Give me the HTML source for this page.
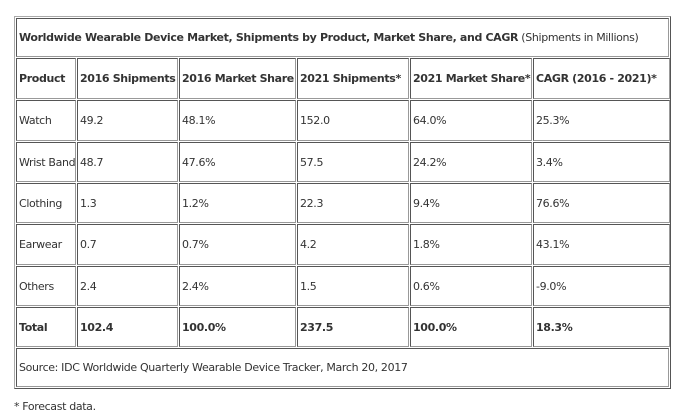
<!DOCTYPE html><html><head><style>
body{margin:0;width:700px;height:420px;background:#fff;position:relative;font-family:"DejaVu Sans","Liberation Sans",sans-serif;font-size:11px;color:#333;overflow:hidden;letter-spacing:-0.35px}
.t{position:absolute;left:14px;top:16px;width:655px;height:371px;border:1px solid #aaa;border-right-color:#555;border-bottom-color:#555}
.c{position:absolute;box-sizing:border-box;border:1px solid #999;border-top-color:#555;border-left-color:#555;padding-left:2px;display:flex;align-items:center;white-space:nowrap;overflow:hidden}
b{font-weight:bold}
</style></head><body>
<div class="t"></div>
<div id="g"></div>
<div style="position:absolute;left:14px;top:400px">* Forecast data.</div>
<script>
var xs=[[16,75],[77,177],[179,295],[297,408],[410,531],[533,669]];
var ys=[[58,98],[100,140],[142,181],[183,222],[224,264],[266,305],[307,346]];
var d=[["Product","2016 Shipments","2016 Market Share","2021 Shipments*","2021 Market Share*","CAGR (2016 - 2021)*"],
["Watch","49.2","48.1%","152.0","64.0%","25.3%"],
["Wrist Band","48.7","47.6%","57.5","24.2%","3.4%"],
["Clothing","1.3","1.2%","22.3","9.4%","76.6%"],
["Earwear","0.7","0.7%","4.2","1.8%","43.1%"],
["Others","2.4","2.4%","1.5","0.6%","-9.0%"],
["Total","102.4","100.0%","237.5","100.0%","18.3%"]];
var h='<div class="c" style="left:16px;top:18px;width:653px;height:39px"><span><b>Worldwide Wearable Device Market, Shipments by Product, Market Share, and CAGR</b> (Shipments in Millions)</span></div>';
for(var r=0;r<7;r++)for(var c=0;c<6;c++){var bold=(r==0||r==6);
h+='<div class="c" style="left:'+xs[c][0]+'px;top:'+ys[r][0]+'px;width:'+(xs[c][1]-xs[c][0]+1)+'px;height:'+(ys[r][1]-ys[r][0]+1)+'px">'+(bold?'<b>'+d[r][c]+'</b>':d[r][c])+'</div>';}
h+='<div class="c" style="left:16px;top:348px;width:653px;height:39px">Source: IDC Worldwide Quarterly Wearable Device Tracker, March 20, 2017</div>';
document.getElementById('g').innerHTML=h;
</script>
</body></html>
